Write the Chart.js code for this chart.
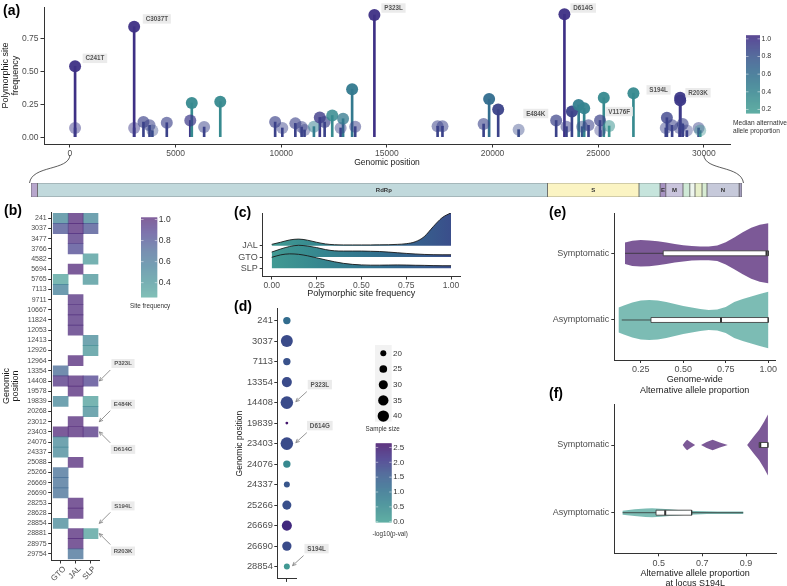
<!DOCTYPE html>
<html>
<head>
<meta charset="utf-8">
<title>Polymorphic sites</title>
<script src="https://cdn.jsdelivr.net/npm/chart.js@4.4.1/dist/chart.umd.min.js"></script>
<style>
  html, body { margin: 0; padding: 0; background: #fff; }
  body { position: relative; width: 787px; height: 586px; overflow: hidden; }
  canvas { position: absolute; }
</style>
</head>
<body>
<canvas id="cA"></canvas>
<canvas id="cG"></canvas>
<canvas id="cB"></canvas>
<canvas id="cC"></canvas>
<canvas id="cD"></canvas>
<canvas id="cE"></canvas>
<canvas id="cF"></canvas>
<script>
// ---------- (a) lollipop data ----------
const aPos = [241, 241, 3037, 3037, 3477, 3766, 3900, 4582, 5694, 5765, 6350, 7113, 9711, 10050, 10667, 10964, 11100, 11546, 11824, 12053, 12413, 12810, 12926, 13354, 13500, 14408, 17400, 17630, 19578, 19839, 20268, 21235, 23012, 23403, 23500, 23757, 24076, 24240, 24337, 24543, 25088, 25100, 25266, 25520, 26669, 28200, 28253, 28500, 28854, 28881, 28883, 29000, 29200, 29754, 29830];
const aFreq = [0.54, 0.07, 0.84, 0.07, 0.115, 0.09, 0.05, 0.11, 0.127, 0.26, 0.077, 0.27, 0.115, 0.07, 0.105, 0.077, 0.055, 0.08, 0.15, 0.115, 0.165, 0.07, 0.14, 0.365, 0.08, 0.93, 0.083, 0.083, 0.10, 0.29, 0.21, 0.057, 0.127, 0.935, 0.08, 0.195, 0.245, 0.08, 0.22, 0.09, 0.127, 0.05, 0.30, 0.085, 0.335, 0.07, 0.148, 0.09, 0.07, 0.30, 0.28, 0.10, 0.05, 0.07, 0.05];
const aMedAlt = [1.0, 0.95, 1.0, 0.95, 0.9, 0.9, 0.85, 0.9, 0.95, 0.35, 0.9, 0.35, 0.9, 0.9, 0.9, 0.9, 0.9, 0.45, 0.95, 0.9, 0.35, 0.9, 0.5, 0.5, 0.9, 1.0, 0.9, 0.9, 0.9, 0.6, 0.9, 0.85, 0.9, 1.0, 0.9, 0.9, 0.45, 0.8, 0.4, 0.9, 0.9, 0.9, 0.35, 0.25, 0.35, 0.9, 0.9, 0.9, 0.9, 0.95, 0.95, 0.9, 0.9, 0.9, 0.3];
const aLabelText = ['C241T', 'C3037T', 'P323L', 'D614G', 'E484K', 'V1176F', 'S194L', 'R203K'];
const aLabelPos = [1181, 4111, 15312, 24292, 22047, 25993, 27860, 29726];
const aLabelFreq = [0.60, 0.90, 0.983, 0.983, 0.18, 0.195, 0.36, 0.338];
const aXTicks = [0, 5000, 10000, 15000, 20000, 25000, 30000];
const aYTicks = [0, 0.25, 0.5, 0.75];
const aLegendTicks = [0.2, 0.4, 0.6, 0.8, 1.0];

// ---------- genome map ----------
const genRegion = ['5UTR', 'ORF1ab', 'S', 'ORF3a', 'E', 'M', 'ORF6', 'ORF7', 'ORF8', 'ORF9', 'N', '3UTR'];
const genStart = [0, 273, 21720, 25570, 26455, 26700, 27420, 27710, 27925, 28220, 28430, 29780];
const genEnd = [273, 21720, 25570, 26455, 26700, 27420, 27710, 27925, 28220, 28430, 29780, 29903];
const genLabel = ['RdRp', 'S', 'E', 'M', 'N'];
const genLabelPos = [14839, 23645, 26578, 27060, 29105];
const genFill = ['#b7a6cc', '#c1d9dc', '#fbf4c3', '#c6e4dc', '#a793c2', '#c9c4dc', '#cfe9d6', '#eef6ee', '#e8f0ca', '#d8ecd3', '#c6c9da', '#a59fbf'];

// ---------- (b) heatmap ----------
const bRows = [241, 3037, 3477, 3766, 4582, 5694, 5765, 7113, 9711, 10667, 11824, 12053, 12413, 12926, 12964, 13354, 14408, 19578, 19839, 20268, 23012, 23403, 24076, 24337, 25088, 25266, 26669, 26690, 28253, 28628, 28854, 28881, 28975, 29754];
const bCols = ['GTO', 'JAL', 'SLP'];
const bGTO = [0.5, 0.8, null, null, null, null, 0.3, 0.55, null, null, null, null, null, null, null, 0.68, 0.95, null, 0.5, null, null, 1.0, 0.48, 0.48, null, 0.65, 0.65, 0.65, null, null, 0.48, null, null, null];
const bJAL = [1.0, 1.0, 0.95, 0.85, null, 1.0, null, null, 0.97, 0.97, 0.97, 0.97, null, null, 1.0, null, 1.0, 1.0, null, null, 1.0, 1.0, null, null, 1.0, null, null, null, 1.0, 1.0, null, 1.0, 1.0, 0.65];
const bSLP = [0.5, 0.8, null, null, 0.35, null, 0.4, null, null, null, null, null, 0.47, 0.4, null, null, 0.88, null, 0.33, 0.45, null, 0.95, null, null, null, null, null, null, null, null, null, 0.33, null, null];
const bLegendTicks = [0.4, 0.6, 0.8, 1.0];
const bAnnText = ['P323L', 'E484K', 'D614G', 'S194L', 'R203K'];
const bAnnRow = [14408, 23012, 23403, 28854, 28881];
const bAnnSide = [-1, -1, 1, -1, 1];

// ---------- (c) ridgelines ----------
const cGroups = ['SLP', 'GTO', 'JAL'];
const cX = [0, 0.05, 0.1, 0.15, 0.2, 0.25, 0.3, 0.35, 0.4, 0.45, 0.5, 0.55, 0.6, 0.65, 0.7, 0.75, 0.8, 0.85, 0.9, 0.95, 1.0];
const cJAL = [0.12, 0.31, 0.51, 0.59, 0.49, 0.31, 0.16, 0.09, 0.07, 0.07, 0.07, 0.07, 0.08, 0.09, 0.12, 0.18, 0.35, 0.8, 1.68, 2.48, 2.92];
const cGTO = [0.44, 0.71, 0.93, 1.04, 0.97, 0.84, 0.66, 0.55, 0.53, 0.53, 0.53, 0.51, 0.49, 0.44, 0.38, 0.32, 0.27, 0.23, 0.21, 0.2, 0.2];
const cSLP = [0.97, 1.19, 1.28, 1.24, 1.11, 0.93, 0.75, 0.58, 0.44, 0.35, 0.3, 0.28, 0.28, 0.29, 0.3, 0.29, 0.27, 0.26, 0.24, 0.23, 0.23];
const cXTicks = [0, 0.25, 0.5, 0.75, 1.0];

// ---------- (d) dot plot ----------
const dRows = [241, 3037, 7113, 13354, 14408, 19839, 23403, 24076, 24337, 25266, 26669, 26690, 28854];
const dSampleSize = [24, 43, 24, 34, 46, 14, 46, 24, 20, 30, 34, 31, 20];
const dLogP = [1.15, 1.75, 1.65, 1.75, 1.75, 2.6, 1.75, 0.5, 1.6, 1.7, 2.3, 1.75, 0.15];
const dSizeLegend = [20, 25, 30, 35, 40];
const dColorTicks = [0, 0.5, 1.0, 1.5, 2.0, 2.5];
const dAnnText = ['P323L', 'D614G', 'S194L'];
const dAnnRow = [14408, 23403, 28854];

// ---------- (e) / (f) violins ----------
const groups = ['Symptomatic', 'Asymptomatic'];
const eSymX = [0.157, 0.2, 0.25, 0.3, 0.35, 0.4, 0.45, 0.5, 0.55, 0.6, 0.65, 0.7, 0.75, 0.8, 0.85, 0.9, 0.95, 1.0];
const eSymD = [0.36, 0.42, 0.44, 0.43, 0.40, 0.36, 0.31, 0.27, 0.24, 0.23, 0.23, 0.26, 0.37, 0.53, 0.70, 0.85, 0.95, 1.0];
const eAsymX = [0.12, 0.15, 0.2, 0.25, 0.3, 0.35, 0.4, 0.45, 0.5, 0.55, 0.6, 0.65, 0.7, 0.75, 0.8, 0.85, 0.9, 0.95, 1.0];
const eAsymD = [0.42, 0.48, 0.58, 0.65, 0.67, 0.65, 0.6, 0.53, 0.47, 0.42, 0.37, 0.33, 0.35, 0.43, 0.6, 0.7, 0.78, 0.87, 0.94];
const eMin = [0.157, 0.138], eQ1 = [0.382, 0.31], eMed = [0.99, 0.722], eQ3 = [1.0, 1.0], eMax = [1.0, 1.0];
const eXTicks = [0.25, 0.5, 0.75, 1.0];

const fSymX = [0.61, 0.62, 0.63, 0.645, 0.667, 0.68, 0.694, 0.72, 0.747, 0.78, 0.816, 0.85, 0.905, 0.935, 0.96, 0.983, 1.0];
const fSymD = [0, 0.1, 0.17, 0.1, 0, 0, 0, 0.1, 0.17, 0.08, 0, 0, 0, 0.28, 0.5, 0.77, 1.0];
const fAsymX = [0.335, 0.39, 0.44, 0.47, 0.51, 0.55, 0.59, 0.63, 0.67, 0.72, 0.77, 0.83, 0.887];
const fAsymD = [0.067, 0.11, 0.14, 0.147, 0.133, 0.11, 0.09, 0.067, 0.057, 0.047, 0.043, 0.043, 0.043];
const fMin = [0.96, 0.335], fQ1 = [0.96, 0.488], fMed = [0.965, 0.53], fQ3 = [1.0, 0.651], fMax = [1.0, 0.887];
const fXTicks = [0.5, 0.7, 0.9];

// ---------- helpers ----------
const FONT = '"Liberation Sans", Arial, Helvetica, sans-serif';
Chart.defaults.font.family = FONT;
Chart.defaults.color = '#4d4d4d';
Chart.defaults.animation = false;
Chart.defaults.plugins.legend.display = false;
Chart.defaults.plugins.tooltip.enabled = false;

const palStops = [
  [0.0, [69, 160, 148]],
  [0.2, [54, 136, 143]],
  [0.4, [49, 112, 142]],
  [0.6, [56, 87, 140]],
  [0.8, [62, 50, 135]],
  [1.0, [69, 19, 107]]
];
function pal(t, a = 1) {
  t = Math.max(0, Math.min(1, t));
  let i = 0;
  while (i < palStops.length - 2 && t > palStops[i + 1][0]) i++;
  const [t0, c0] = palStops[i], [t1, c1] = palStops[i + 1];
  const u = (t - t0) / (t1 - t0);
  const c = c0.map((v, k) => Math.round(v + (c1[k] - v) * u));
  return `rgba(${c[0]},${c[1]},${c[2]},${a})`;
}
const colA = (v, a = 1) => pal((v - 0.16) / 0.88 * 0.85, a);
const colB = (v) => pal((v - 0.26) / 0.76, 0.7);
const colD = (v) => pal(v / 2.64);
const alphaOf = (f) => Math.min(0.95, 0.2 + f * 4);
const sizeToR = (s) => Math.sqrt(Math.max(1.17 * s - 14.4, 1.5));
const groupFill = ['rgba(69,19,107,0.7)', 'rgba(69,160,148,0.7)'];
const VHALF = 0.45, BOXH = 0.037;

function place(id, left, top, w, h) {
  const c = document.getElementById(id);
  c.style.left = left + 'px';
  c.style.top = top + 'px';
  c.width = w;
  c.height = h;
  return c;
}

// one axis in the ggplot "classic" look, with fixed box size
function axis(o) {
  return {
    type: 'linear', min: o.min, max: o.max, reverse: !!o.reverse, offset: false,
    grid: { drawOnChartArea: false, offset: false, tickLength: o.tick ?? 3.5, color: '#333', tickColor: '#333', tickWidth: 1 },
    border: { display: true, color: '#333', width: 1 },
    ticks: {
      autoSkip: false, color: '#4d4d4d', font: { size: o.font ?? 8.5 }, padding: o.pad ?? 2,
      maxRotation: o.rot ?? 0, minRotation: o.rot ?? 0, labelOffset: o.labelOffset ?? 0,
      callback: o.label
    },
    title: o.title ? {
      display: true, text: o.title, color: '#1a1a1a',
      font: { size: o.titleSize ?? 9, lineHeight: o.titleLH ?? 1.1 },
      padding: o.titlePad ?? 0
    } : { display: false },
    afterBuildTicks: (s) => { s.ticks = o.ticks.map(v => ({ value: v })); },
    afterFit: (s) => {
      if (o.width != null) s.width = o.width;
      if (o.height != null) s.height = o.height;
    }
  };
}

function panelTag(ctx, text, x, y) {
  ctx.save();
  ctx.font = `bold 14px ${FONT}`;
  ctx.fillStyle = '#000';
  ctx.textAlign = 'left';
  ctx.textBaseline = 'top';
  ctx.fillText(text, x, y);
  ctx.restore();
}

function labelBox(ctx, text, cx, cy, size) {
  ctx.font = `bold ${size}px ${FONT}`;
  const w = ctx.measureText(text).width + size * 0.9;
  const h = size * 1.5;
  ctx.fillStyle = '#ebebeb';
  ctx.fillRect(cx - w / 2, cy - h / 2, w, h);
  ctx.fillStyle = '#555';
  ctx.textAlign = 'center';
  ctx.textBaseline = 'middle';
  ctx.fillText(text, cx, cy + 0.3);
}

function arrow(ctx, x1, y1, x2, y2) {
  const ang = Math.atan2(y2 - y1, x2 - x1), L = 4;
  ctx.strokeStyle = '#7a7a7a';
  ctx.lineWidth = 0.8;
  ctx.beginPath();
  ctx.moveTo(x1, y1);
  ctx.lineTo(x2, y2);
  ctx.moveTo(x2 - L * Math.cos(ang - 0.45), y2 - L * Math.sin(ang - 0.45));
  ctx.lineTo(x2, y2);
  ctx.lineTo(x2 - L * Math.cos(ang + 0.45), y2 - L * Math.sin(ang + 0.45));
  ctx.stroke();
}

function colorbar(ctx, x, top, w, h, vTop, vBot, colorFn, ticks, digits, fontSize) {
  for (let j = 0; j < h; j++) {
    const v = vTop - (vTop - vBot) * (j + 0.5) / h;
    ctx.fillStyle = colorFn(v);
    ctx.fillRect(x, top + j, w, 1.2);
  }
  ctx.font = `${fontSize}px ${FONT}`;
  ctx.textAlign = 'left';
  ctx.textBaseline = 'middle';
  ticks.forEach(v => {
    const yy = top + (vTop - v) / (vTop - vBot) * h;
    ctx.strokeStyle = 'rgba(255,255,255,0.8)';
    ctx.lineWidth = 0.6;
    ctx.beginPath();
    ctx.moveTo(x, yy); ctx.lineTo(x + 2.5, yy);
    ctx.moveTo(x + w - 2.5, yy); ctx.lineTo(x + w, yy);
    ctx.stroke();
    ctx.fillStyle = '#333';
    ctx.fillText(v.toFixed(digits), x + w + 1.5, yy);
  });
}

function legendTitle(ctx, lines, x, y, size, gap) {
  ctx.font = `${size}px ${FONT}`;
  ctx.fillStyle = '#333';
  ctx.textAlign = 'left';
  ctx.textBaseline = 'middle';
  lines.forEach((t, i) => ctx.fillText(t, x, y + i * gap));
}

// ---------- (a) ----------
const chartA = new Chart(place('cA', 0, 0, 787, 175), {
  type: 'scatter',
  data: {
    datasets: [
      {
        type: 'bar',
        data: aPos.map((p, i) => ({ x: p, y: aFreq[i] })),
        backgroundColor: aMedAlt.map(v => colA(v)),
        barThickness: 2,
        order: 1
      },
      {
        type: 'scatter',
        data: aPos.map((p, i) => ({ x: p, y: aFreq[i] })),
        backgroundColor: aMedAlt.map((v, i) => colA(v, alphaOf(aFreq[i]))),
        pointRadius: 6,
        pointBorderWidth: 0,
        pointBorderColor: 'rgba(0,0,0,0)',
        clip: false,
        order: 0
      }
    ]
  },
  options: {
    responsive: false,
    devicePixelRatio: 1,
    layout: { padding: { left: 0, top: 4, right: 57, bottom: 0 } },
    scales: {
      x: axis({ min: -1230, max: 31240, ticks: aXTicks, label: v => String(v), height: 31, font: 8.5, pad: 1.5,
        title: 'Genomic position', titleSize: 8.5, titlePad: { top: 0, bottom: 7.3 } }),
      y: axis({ min: -0.052, max: 0.99, ticks: aYTicks, label: v => v.toFixed(2), width: 44, font: 8.5, pad: 2,
        title: ['Polymorphic site', 'frequency'], titleSize: 9, titlePad: { top: 0.5, bottom: 0 } })
    }
  },
  plugins: [{
    id: 'aDecor',
    afterDraw(chart) {
      const { ctx, scales: { x, y } } = chart;
      ctx.save();
      aLabelText.forEach((t, i) => labelBox(ctx, t, x.getPixelForValue(aLabelPos[i]), y.getPixelForValue(aLabelFreq[i]), 6.3));
      colorbar(ctx, 746, 35.3, 14, 77.7, 1.04, 0.16, v => colA(v), aLegendTicks, 1, 7);
      legendTitle(ctx, ['Median alternative', 'allele proportion'], 733, 122.7, 6.6, 8);
      ctx.restore();
      panelTag(ctx, '(a)', 3, 4);
    }
  }]
});

// ---------- genome map ----------
new Chart(place('cG', 0, 150, 787, 50), {
  type: 'bar',
  data: {
    labels: [''],
    datasets: genRegion.map((r, i) => ({
      label: r,
      data: [[genStart[i], genEnd[i]]],
      backgroundColor: genFill[i],
      borderColor: '#555',
      borderWidth: 0.7,
      borderSkipped: false,
      grouped: false,
      barPercentage: 1,
      categoryPercentage: 1
    }))
  },
  options: {
    indexAxis: 'y',
    responsive: false,
    devicePixelRatio: 1,
    layout: { padding: { left: 31, right: 45, top: 33, bottom: 3 } },
    scales: {
      x: { type: 'linear', min: 0, max: 29903, display: false },
      y: { display: false }
    }
  },
  plugins: [{
    id: 'genDecor',
    afterDraw(chart) {
      const { ctx, chartArea: ca, scales: { x } } = chart;
      const xa = chartA.scales.x;
      const l0 = xa.getPixelForValue(0), r0 = xa.getPixelForValue(30000);
      ctx.save();
      ctx.strokeStyle = '#333';
      ctx.lineWidth = 0.8;
      ctx.beginPath();
      ctx.moveTo(l0, 5);
      ctx.bezierCurveTo(l0 - 1, 21, ca.left + 1, 15, ca.left - 1.5, ca.top);
      ctx.moveTo(r0, 5);
      ctx.bezierCurveTo(r0 + 1, 21, ca.right - 1, 15, ca.right + 1.5, ca.top);
      ctx.stroke();
      ctx.font = `bold 6px ${FONT}`;
      ctx.fillStyle = '#333';
      ctx.textAlign = 'center';
      ctx.textBaseline = 'middle';
      const cy = (ca.top + ca.bottom) / 2;
      genLabel.forEach((t, i) => ctx.fillText(t, x.getPixelForValue(genLabelPos[i]), cy));
      ctx.restore();
    }
  }]
});

// ---------- (b) heatmap ----------
new Chart(place('cB', 0, 200, 230, 386), {
  type: 'bar',
  data: {
    datasets: [bGTO, bJAL, bSLP].map((vals, c) => {
      const idx = vals.map((v, i) => (v == null ? -1 : i)).filter(i => i >= 0);
      return {
        label: bCols[c],
        data: idx.map(i => ({ y: i, x: [c, c + 1] })),
        backgroundColor: idx.map(i => colB(vals[i])),
        borderWidth: 0,
        grouped: false,
        barPercentage: 1,
        categoryPercentage: 1
      };
    })
  },
  options: {
    indexAxis: 'y',
    responsive: false,
    devicePixelRatio: 1,
    layout: { padding: { left: 0, top: 12.2, right: 130.5, bottom: 0 } },
    scales: {
      x: axis({ min: -0.1, max: 3.1, ticks: [0.5, 1.5, 2.5], label: v => bCols[Math.floor(v)], height: 26, font: 8, pad: 1, rot: 45, labelOffset: 4 }),
      y: axis({ min: -0.6, max: 33.6, reverse: true, ticks: bRows.map((_, i) => i), label: v => String(bRows[v]), width: 51.7, font: 7, pad: 1.5,
        title: ['Genomic', 'position'], titleSize: 9, titleLH: 0.95, titlePad: { top: 2.4, bottom: 0 } })
    }
  },
  plugins: [{
    id: 'bDecor',
    afterDraw(chart) {
      const { ctx, scales: { x, y } } = chart;
      ctx.save();
      colorbar(ctx, 141, 17.3, 16.3, 80, 1.021, 0.261, colB, bLegendTicks, 1, 8.5);
      legendTitle(ctx, ['Site frequency'], 130, 106.7, 6.3, 8);
      bAnnText.forEach((t, i) => {
        const tx = x.getPixelForValue(3) + 1.3;
        const ty = y.getPixelForValue(bRows.indexOf(bAnnRow[i]));
        const s = bAnnSide[i];
        arrow(ctx, tx + 11, ty + s * 11, tx, ty);
        labelBox(ctx, t, tx + 23.7, ty + s * 17.5, 6);
      });
      ctx.restore();
      panelTag(ctx, '(b)', 4, 4);
    }
  }]
});

// ---------- (c) ridgelines ----------
function ridgeFill(context) {
  const chart = context.chart;
  if (!chart.chartArea) return 'rgba(0,0,0,0)';
  const sx = chart.scales.x;
  const g = chart.ctx.createLinearGradient(sx.getPixelForValue(0), 0, sx.getPixelForValue(1), 0);
  for (let k = 0; k <= 10; k++) g.addColorStop(k / 10, pal(0.05 + k / 10 * 0.6));
  return g;
}
new Chart(place('cC', 220, 200, 280, 102), {
  type: 'scatter',
  data: {
    datasets: [cSLP, cGTO, cJAL].map((h, k) => {
      const base = k + 1;
      return {
        label: cGroups[k],
        data: cX.map((x, i) => ({ x, y: base + h[i] })),
        showLine: true,
        pointRadius: 0,
        borderColor: '#1a1a1a',
        borderWidth: 0.9,
        cubicInterpolationMode: 'monotone',
        fill: { value: base },
        backgroundColor: ridgeFill,
        order: base
      };
    })
  },
  options: {
    responsive: false,
    devicePixelRatio: 1,
    layout: { padding: { left: 0, top: 13, right: 40, bottom: 0 } },
    scales: {
      x: axis({ min: -0.05, max: 1.05, ticks: cXTicks, label: v => v.toFixed(2), height: 26, font: 8.5, pad: 1.5,
        title: 'Polymorphic site frequency', titleSize: 9, titlePad: { top: 0, bottom: 3.7 } }),
      y: axis({ min: 0.32, max: 5.9, ticks: [1, 2, 3], label: v => cGroups[v - 1], width: 42.7, font: 9, pad: 2, tick: 3 })
    }
  },
  plugins: [{ id: 'cTag', afterDraw(chart) { panelTag(chart.ctx, '(c)', 14, 6); } }]
});

// ---------- (d) dot plot ----------
new Chart(place('cD', 220, 296, 280, 290), {
  type: 'scatter',
  data: {
    datasets: [{
      data: dRows.map((_, i) => ({ x: 0, y: i })),
      pointRadius: dSampleSize.map(sizeToR),
      backgroundColor: dLogP.map(colD),
      pointBorderWidth: 0,
      pointBorderColor: 'rgba(0,0,0,0)',
      clip: false
    }]
  },
  options: {
    responsive: false,
    devicePixelRatio: 1,
    layout: { padding: { left: 0, top: 12.3, right: 204, bottom: 0 } },
    scales: {
      x: axis({ min: -1, max: 1, ticks: [0], label: () => '', height: 6, tick: 3, pad: 0 }),
      y: axis({ min: -0.6, max: 12.6, reverse: true, ticks: dRows.map((_, i) => i), label: v => String(dRows[v]), width: 57.7, font: 9.3, pad: 1.5, tick: 3.4,
        title: 'Genomic position', titleSize: 8.5, titlePad: { top: 15.3, bottom: 0 } })
    }
  },
  plugins: [{
    id: 'dDecor',
    afterDraw(chart) {
      const { ctx, scales: { x, y } } = chart;
      ctx.save();
      // size legend
      ctx.fillStyle = '#f2f2f2';
      ctx.fillRect(155, 49, 16.7, 76.7);
      ctx.font = `8px ${FONT}`;
      ctx.textAlign = 'left';
      ctx.textBaseline = 'middle';
      dSizeLegend.forEach((s, k) => {
        const yy = 57.3 + k * 15.7;
        ctx.fillStyle = '#000';
        ctx.beginPath();
        ctx.arc(163.3, yy, sizeToR(s), 0, Math.PI * 2);
        ctx.fill();
        ctx.fillStyle = '#333';
        ctx.fillText(String(s), 173, yy);
      });
      legendTitle(ctx, ['Sample size'], 145.5, 133.3, 6.3, 8);
      colorbar(ctx, 155.7, 147.3, 16, 78.4, 2.64, 0, colD, dColorTicks, 1, 8);
      legendTitle(ctx, ['-log10(p-val)'], 152.5, 238, 6.3, 8);
      // annotations
      dAnnText.forEach((t, i) => {
        const k = dRows.indexOf(dAnnRow[i]);
        const tx = x.getPixelForValue(0) + sizeToR(dSampleSize[k]) + 2.7;
        const ty = y.getPixelForValue(k) - 1;
        arrow(ctx, tx + 11, ty - 10, tx, ty);
        labelBox(ctx, t, tx + 24, ty - 17, 6.3);
      });
      ctx.restore();
      panelTag(ctx, '(d)', 14, 4);
    }
  }]
});

// ---------- (e) / (f) violins ----------
function violinSets(shapes, stats) {
  const sets = [];
  shapes.forEach(([xs, ds], g) => {
    const c = g + 1;
    const up = xs.map((x, i) => ({ x, y: c - ds[i] * VHALF }));
    const lo = xs.map((x, i) => ({ x, y: c + ds[i] * VHALF })).reverse();
    sets.push({ data: [...up, ...lo, up[0]], showLine: true, fill: 'shape', backgroundColor: groupFill[g],
      borderColor: 'rgba(0,0,0,0)', borderWidth: 0, pointRadius: 0, order: 4 });
    const [mn, q1, md, q3, mx] = stats.map(s => s[g]);
    const line = { showLine: true, borderColor: '#333', borderWidth: 0.8, pointRadius: 0, order: 3 };
    sets.push(Object.assign({ data: [{ x: mn, y: c }, { x: q1, y: c }] }, line));
    sets.push(Object.assign({ data: [{ x: q3, y: c }, { x: mx, y: c }] }, line));
    sets.push({ data: [{ x: q1, y: c - BOXH }, { x: q3, y: c - BOXH }, { x: q3, y: c + BOXH }, { x: q1, y: c + BOXH }, { x: q1, y: c - BOXH }],
      showLine: true, fill: 'shape', backgroundColor: '#fff', borderColor: '#333', borderWidth: 0.8, pointRadius: 0, order: 2 });
    sets.push({ data: [{ x: md, y: c - BOXH }, { x: md, y: c + BOXH }], showLine: true, borderColor: '#333', borderWidth: 2, pointRadius: 0, order: 1 });
  });
  return sets;
}

new Chart(place('cE', 500, 200, 287, 198), {
  type: 'scatter',
  data: { datasets: violinSets([[eSymX, eSymD], [eAsymX, eAsymD]], [eMin, eQ1, eMed, eQ3, eMax]) },
  options: {
    responsive: false,
    devicePixelRatio: 1,
    layout: { padding: { left: 0, top: 13.3, right: 12, bottom: 0 } },
    scales: {
      x: axis({ min: 0.094, max: 1.04, ticks: eXTicks, label: v => v.toFixed(2), height: 38, font: 9, pad: 1.5, tick: 3,
        title: ['Genome-wide', 'Alternative allele proportion'], titleSize: 9, titleLH: 1.22, titlePad: { top: 0, bottom: 1.8 } }),
      y: axis({ min: 0.4, max: 2.6, reverse: true, ticks: [1, 2], label: v => groups[v - 1], width: 114.3, font: 9, pad: 2, tick: 3 })
    }
  },
  plugins: [{ id: 'eTag', afterDraw(chart) { panelTag(chart.ctx, '(e)', 49, 6); } }]
});

new Chart(place('cF', 500, 384, 287, 204), {
  type: 'scatter',
  data: { datasets: violinSets([[fSymX, fSymD], [fAsymX, fAsymD]], [fMin, fQ1, fMed, fQ3, fMax]) },
  options: {
    responsive: false,
    devicePixelRatio: 1,
    layout: { padding: { left: 0, top: 20.4, right: 11, bottom: 0 } },
    scales: {
      x: axis({ min: 0.297, max: 1.037, ticks: fXTicks, label: v => v.toFixed(1), height: 34.7, font: 9, pad: 1.5, tick: 3,
        title: ['Alternative allele proportion', 'at locus S194L'], titleSize: 9, titleLH: 1.1, titlePad: { top: 0, bottom: 0 } }),
      y: axis({ min: 0.4, max: 2.6, reverse: true, ticks: [1, 2], label: v => groups[v - 1], width: 114.3, font: 9, pad: 2, tick: 3 })
    }
  },
  plugins: [{ id: 'fTag', afterDraw(chart) { panelTag(chart.ctx, '(f)', 49, 3); } }]
});
</script>
</body>
</html>
